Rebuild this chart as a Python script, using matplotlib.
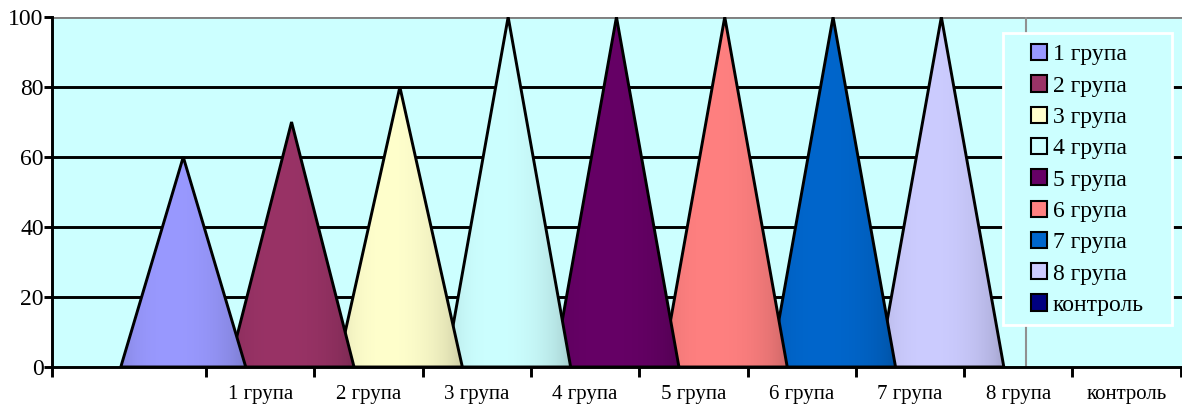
import numpy as np
import matplotlib
matplotlib.use("Agg")
import matplotlib.pyplot as plt
from matplotlib.patches import Polygon, Patch, Rectangle
from matplotlib.colors import to_rgb

# ---- data ----
categories = ["1 група", "2 група", "3 група", "4 група", "5 група",
              "6 група", "7 група", "8 група", "контроль"]
series_names = ["1 група", "2 група", "3 група", "4 група", "5 група",
                "6 група", "7 група", "8 група", "контроль"]
values = [60, 70, 80, 100, 100, 100, 100, 100, 0]
colors = ["#9999FF", "#993366", "#FFFFCC", "#CCFFFF", "#660066",
          "#FF8080", "#0066CC", "#CCCCFF", "#000080"]
y_ticks = [0, 20, 40, 60, 80, 100]

# ---- style ----
plt.rcParams['font.family'] = ['Liberation Serif', 'DejaVu Serif']
BG = "#CCFFFF"
LW = 2.1
DEPTH_SHIFT = 0.71      # 3-D perspective shift of cones (category widths)
CONE_HALF = 0.577       # half width of cone base (category widths)
X_MIN, X_MAX = -1.422, 9.012
WALL_EDGE = 7.57

W, H = 1182, 412
fig = plt.figure(figsize=(W / 100, H / 100), dpi=100)
ax = fig.add_axes([52 / W, 1 - 367 / H, 1 - 52 / W, (367 - 17) / H])
ax.set_facecolor(BG)

# gridlines
for yv in y_ticks[1:]:
    ax.axhline(yv, color="#808080" if yv == 100 else "black",
               lw=LW, zorder=1)
ax.axvline(WALL_EDGE, color="#909090", lw=1.5, zorder=1)


def shade(base, n=300):
    t = np.linspace(-1, 1, n)
    th = np.arcsin(np.clip(t, -1, 1))
    f = 0.80 + 0.20 * np.cos(th + 0.2)
    b = np.array(to_rgb(base))
    out = (b[None, :] * f[:, None])[None, :, :]
    return np.clip(out, 0, 1)


n = len(categories)
for i, (v, c) in enumerate(zip(values, colors)):
    if v <= 0:
        continue
    cx = i + 0.5 - DEPTH_SHIFT
    z = 20 - i
    verts = [(cx - CONE_HALF, 0), (cx, v), (cx + CONE_HALF, 0)]
    im = ax.imshow(shade(c), extent=[cx - CONE_HALF, cx + CONE_HALF, 0, v],
                   aspect="auto", zorder=z, interpolation="bilinear")
    clip = Polygon(verts, closed=True, transform=ax.transData)
    im.set_clip_path(clip)
    ax.add_patch(Polygon(verts, closed=True, facecolor="none",
                         edgecolor="black", lw=LW, zorder=z + 0.5,
                         joinstyle="miter"))

ax.set_xlim(X_MIN, X_MAX)
ax.set_ylim(0, 100)

# axes / ticks
for s in ["top", "right"]:
    ax.spines[s].set_visible(False)
for s in ["left", "bottom"]:
    ax.spines[s].set_linewidth(LW)
    ax.spines[s].set_zorder(30)
ax.set_yticks(y_ticks)
ax.set_yticklabels([str(t) for t in y_ticks], fontsize=17)
ax.tick_params(axis="y", length=5.5, width=LW, pad=0.5)
ax.set_xticks([X_MIN] + list(range(n + 1)))
ax.set_xticklabels([""] * (n + 2))
ax.tick_params(axis="x", which="major", length=7, width=LW, direction="out")
ax.set_xticks([i + 0.5 for i in range(n)], minor=True)
ax.set_xticklabels(categories, minor=True, fontsize=15)
ax.tick_params(axis="x", which="minor", length=0, pad=13)

# legend frame
fig.add_artist(Rectangle((1003 / W, 1 - 325 / H), (1172 - 1003) / W,
                         (325 - 33) / H, transform=fig.transFigure,
                         facecolor=BG, edgecolor="white", lw=2, zorder=4))

handles = [Patch(facecolor=c, edgecolor="black", lw=1.5) for c in colors]
leg = fig.legend(handles, series_names, loc="upper left",
                 bbox_to_anchor=(1031 / W, 1 - 44 / H), borderaxespad=0,
                 fontsize=17, frameon=False, borderpad=0,
                 handlelength=0.68, handleheight=0.68, handletextpad=0.25,
                 labelspacing=0.42)
leg.set_zorder(5)

fig.savefig("out.png", dpi=100)
